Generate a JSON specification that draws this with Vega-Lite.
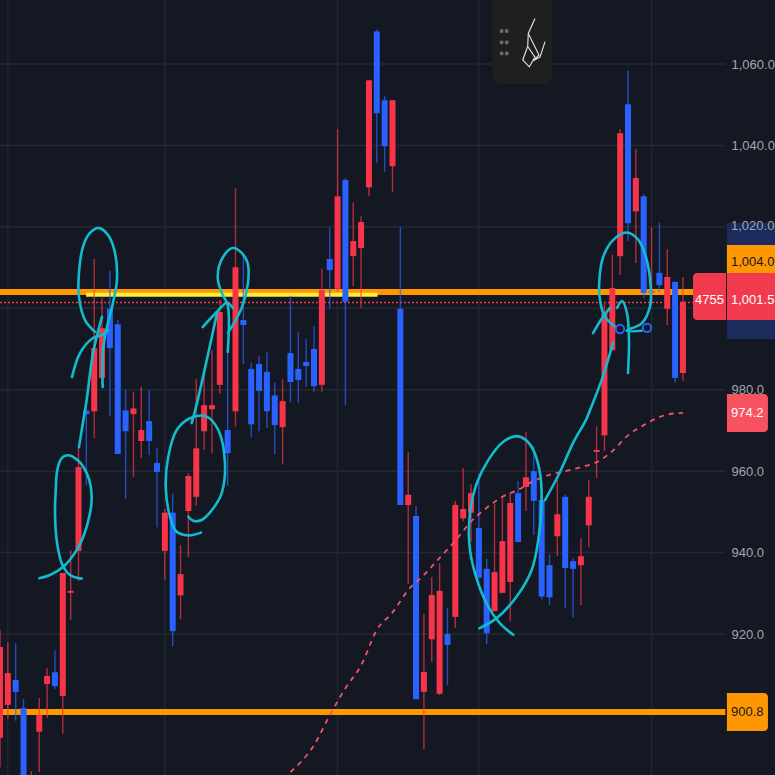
{
  "$schema": "https://vega.github.io/schema/vega-lite/v6.json",
  "description": "Candlestick chart with hand-drawn circles and price levels",
  "width": 775,
  "height": 775,
  "padding": 0,
  "autosize": {"type": "none"},
  "background": "#141823",
  "config": {
    "view": {"stroke": null},
    "axisX": {"disable": true},
    "axisY": {"domain": false, "ticks": false, "grid": false, "title": null, "labelFont": "Liberation Sans", "labelFontSize": 13, "labelColor": "#a3a6af", "labelPadding": 0, "labelAlign": "left", "format": ",.1f", "orient": "right", "offset": -44}
  },
  "datasets": {
    "candles": [
      {"i":0,"dir":"up","high":921.0,"close":916.8,"open":894.5,"low":887.3},
      {"i":1,"dir":"up","high":918.0,"close":910.4,"open":902.6,"low":899.2},
      {"i":2,"dir":"down","high":917.8,"open":908.7,"close":905.8,"low":898.7},
      {"i":3,"dir":"down","high":904.0,"open":901.8,"close":881.7,"low":881.7},
      {"i":4,"dir":"up","high":886.3,"close":882.9,"open":879.2,"low":878.0},
      {"i":5,"dir":"up","high":904.3,"close":900.1,"open":896.0,"low":886.1},
      {"i":6,"dir":"up","high":911.6,"close":909.7,"open":907.7,"low":899.4},
      {"i":7,"dir":"down","high":916.0,"open":910.6,"close":907.2,"low":906.5},
      {"i":8,"dir":"up","high":935.0,"close":935.0,"open":904.8,"low":895.5},
      {"i":9,"dir":"up","high":940.6,"close":930.6,"open":930.1,"low":923.4},
      {"i":10,"dir":"up","high":965.9,"close":961.0,"open":940.4,"low":933.0},
      {"i":11,"dir":"down","high":976.2,"open":974.9,"close":974.0,"low":956.6},
      {"i":12,"dir":"up","high":1012.1,"close":990.2,"open":974.7,"low":968.1},
      {"i":13,"dir":"up","high":1002.6,"close":995.1,"open":982.9,"low":981.2},
      {"i":14,"dir":"down","high":1009.2,"open":999.9,"close":990.2,"low":973.5},
      {"i":15,"dir":"down","high":997.1,"open":996.1,"close":964.2,"low":964.2},
      {"i":16,"dir":"down","high":980.0,"open":974.9,"close":969.8,"low":953.2},
      {"i":17,"dir":"up","high":979.5,"close":975.4,"open":974.0,"low":958.6},
      {"i":18,"dir":"up","high":980.7,"close":970.1,"open":967.4,"low":963.2},
      {"i":19,"dir":"down","high":980.0,"open":972.3,"close":967.4,"low":963.9},
      {"i":20,"dir":"down","high":965.6,"open":962.0,"close":959.8,"low":946.2},
      {"i":21,"dir":"up","high":950.7,"close":949.8,"open":940.4,"low":933.3},
      {"i":22,"dir":"down","high":954.6,"open":949.8,"close":920.7,"low":917.0},
      {"i":23,"dir":"up","high":941.8,"close":934.7,"open":929.5,"low":923.6},
      {"i":24,"dir":"up","high":959.5,"close":958.8,"open":950.2,"low":938.9},
      {"i":25,"dir":"up","high":982.6,"close":965.6,"open":953.7,"low":951.5},
      {"i":26,"dir":"up","high":985.3,"close":976.2,"open":969.8,"low":965.2},
      {"i":27,"dir":"up","high":989.7,"close":976.2,"open":975.2,"low":964.4},
      {"i":28,"dir":"up","high":1002.1,"close":999.1,"open":981.2,"low":979.0},
      {"i":29,"dir":"down","high":989.0,"open":970.1,"close":964.4,"low":956.4},
      {"i":30,"dir":"up","high":1029.5,"close":1010.1,"open":974.7,"low":971.0},
      {"i":31,"dir":"down","high":1013.1,"open":997.1,"close":995.9,"low":986.3},
      {"i":32,"dir":"down","high":986.6,"open":985.1,"close":971.5,"low":968.3},
      {"i":33,"dir":"down","high":988.3,"open":986.3,"close":979.7,"low":969.8},
      {"i":34,"dir":"down","high":989.2,"open":984.4,"close":974.7,"low":970.6},
      {"i":35,"dir":"down","high":981.7,"open":978.6,"close":971.3,"low":964.2},
      {"i":36,"dir":"up","high":982.6,"close":977.2,"open":970.8,"low":961.7},
      {"i":37,"dir":"down","high":1003.1,"open":989.0,"close":981.9,"low":976.9},
      {"i":38,"dir":"down","high":994.1,"open":985.1,"close":982.4,"low":976.7},
      {"i":39,"dir":"down","high":992.4,"open":986.8,"close":985.8,"low":980.7},
      {"i":40,"dir":"down","high":995.6,"open":990.0,"close":980.9,"low":979.5},
      {"i":41,"dir":"up","high":1009.7,"close":1004.5,"open":981.2,"low":979.5},
      {"i":42,"dir":"down","high":1019.9,"open":1012.1,"close":1009.4,"low":999.9},
      {"i":43,"dir":"up","high":1044.0,"close":1027.5,"open":1004.8,"low":1004.0},
      {"i":44,"dir":"down","high":1032.0,"open":1031.5,"close":1001.6,"low":976.2},
      {"i":45,"dir":"up","high":1026.0,"close":1016.5,"open":1012.8,"low":1005.5},
      {"i":46,"dir":"up","high":1022.6,"close":1021.2,"open":1014.8,"low":1000.1},
      {"i":47,"dir":"up","high":1056.0,"close":1056.0,"open":1029.7,"low":1027.5},
      {"i":48,"dir":"down","high":1068.5,"open":1068.0,"close":1047.9,"low":1035.7},
      {"i":49,"dir":"down","high":1052.1,"open":1051.1,"close":1039.8,"low":1033.5},
      {"i":50,"dir":"up","high":1051.1,"close":1051.1,"open":1034.9,"low":1028.5},
      {"i":51,"dir":"down","high":1019.9,"open":999.9,"close":951.7,"low":951.7},
      {"i":52,"dir":"up","high":964.7,"close":954.2,"open":951.7,"low":932.3},
      {"i":53,"dir":"down","high":951.5,"open":949.0,"close":904.0,"low":904.0},
      {"i":54,"dir":"up","high":924.9,"close":910.7,"open":905.8,"low":891.7},
      {"i":55,"dir":"up","high":934.0,"close":929.6,"open":918.7,"low":913.1},
      {"i":56,"dir":"up","high":937.4,"close":930.6,"open":905.3,"low":905.0},
      {"i":57,"dir":"down","high":926.4,"open":920.0,"close":917.3,"low":907.5},
      {"i":58,"dir":"up","high":952.7,"close":951.7,"open":924.2,"low":921.5},
      {"i":59,"dir":"up","high":960.8,"close":950.7,"open":948.4,"low":947.7},
      {"i":60,"dir":"up","high":956.8,"close":954.6,"open":949.8,"low":942.6},
      {"i":61,"dir":"down","high":959.5,"open":946.0,"close":933.8,"low":933.8},
      {"i":62,"dir":"down","high":938.4,"open":936.0,"close":920.2,"low":917.5},
      {"i":63,"dir":"up","high":952.0,"close":935.2,"open":925.6,"low":925.6},
      {"i":64,"dir":"up","high":953.7,"close":942.8,"open":930.1,"low":930.1},
      {"i":65,"dir":"up","high":954.6,"close":952.2,"open":932.8,"low":923.1},
      {"i":66,"dir":"down","high":957.6,"open":954.6,"close":942.6,"low":942.6},
      {"i":67,"dir":"up","high":969.6,"close":958.5,"open":956.1,"low":950.2},
      {"i":68,"dir":"down","high":966.1,"open":960.0,"close":952.7,"low":944.3},
      {"i":69,"dir":"down","high":952.9,"open":952.9,"close":929.2,"low":928.5},
      {"i":70,"dir":"down","high":939.6,"open":936.9,"close":929.0,"low":927.1},
      {"i":71,"dir":"up","high":957.8,"close":949.4,"open":944.0,"low":939.1},
      {"i":72,"dir":"down","high":954.2,"open":953.7,"close":936.2,"low":926.3},
      {"i":73,"dir":"down","high":938.6,"open":937.9,"close":936.0,"low":924.1},
      {"i":74,"dir":"up","high":943.5,"close":939.1,"open":936.9,"low":927.1},
      {"i":75,"dir":"up","high":957.8,"close":953.7,"open":946.7,"low":941.3},
      {"i":76,"dir":"up","high":971.0,"close":965.2,"open":964.7,"low":958.3},
      {"i":77,"dir":"up","high":1001.1,"close":998.8,"open":968.8,"low":964.9},
      {"i":78,"dir":"up","high":1013.1,"close":1005.0,"open":989.7,"low":989.7},
      {"i":79,"dir":"up","high":1044.0,"close":1043.0,"open":1012.8,"low":1008.2},
      {"i":80,"dir":"down","high":1058.4,"open":1050.1,"close":1020.9,"low":1016.5},
      {"i":81,"dir":"up","high":1039.1,"close":1032.0,"open":1023.8,"low":1011.1},
      {"i":82,"dir":"down","high":1028.0,"open":1027.5,"close":1003.8,"low":1002.6},
      {"i":83,"dir":"up","high":1019.9,"close":1004.3,"open":1003.8,"low":1001.3},
      {"i":84,"dir":"down","high":1021.1,"open":1008.7,"close":1005.7,"low":1004.0},
      {"i":85,"dir":"up","high":1014.5,"close":1007.7,"open":999.9,"low":995.9},
      {"i":86,"dir":"down","high":1006.5,"open":1006.5,"close":982.9,"low":981.7},
      {"i":87,"dir":"up","high":1007.7,"close":1001.6,"open":984.1,"low":982.2}
    ],
    "ma": [
      {"i":37,"p":886.1},{"i":40,"p":892.7},{"i":42,"p":900.0},{"i":44,"p":906.7},{"i":46,"p":912.3},
      {"i":48,"p":921.0},{"i":50,"p":925.3},{"i":52,"p":930.8},{"i":54,"p":934.5},{"i":56,"p":938.7},
      {"i":58,"p":942.9},{"i":60,"p":947.6},{"i":62,"p":951.0},{"i":64,"p":953.7},{"i":66,"p":955.4},
      {"i":68,"p":957.6},{"i":70,"p":959.1},{"i":72,"p":960.0},{"i":74,"p":961.0},{"i":76,"p":962.2},
      {"i":78,"p":964.9},{"i":80,"p":968.8},{"i":82,"p":971.3},{"i":84,"p":973.3},{"i":86,"p":974.2},{"i":87,"p":974.3}
    ],
    "drawing": [
      {"s":"a","n":0,"i":5.01,"p":933.7},{"s":"a","n":1,"i":6.37,"p":934.5},{"s":"a","n":2,"i":8.07,"p":936.5},{"s":"a","n":3,"i":9.77,"p":940.6},{"s":"a","n":4,"i":10.61,"p":943.9},{"s":"a","n":5,"i":11.46,"p":949.6},{"s":"a","n":6,"i":11.68,"p":953.7},{"s":"a","n":7,"i":11.38,"p":957.8},{"s":"a","n":8,"i":10.61,"p":961.1},{"s":"a","n":9,"i":9.77,"p":962.9},{"s":"a","n":10,"i":8.7,"p":963.9},{"s":"a","n":11,"i":7.86,"p":963.2},{"s":"a","n":12,"i":7.3,"p":960.3},{"s":"a","n":13,"i":7.1,"p":955.4},{"s":"a","n":14,"i":7.01,"p":949.6},{"s":"a","n":15,"i":7.22,"p":943.1},{"s":"a","n":16,"i":7.86,"p":937.4},{"s":"a","n":17,"i":8.92,"p":934.5},{"s":"a","n":18,"i":10.41,"p":933.6},
      {"s":"b","n":0,"i":10.06,"p":965.9},{"s":"b","n":1,"i":10.41,"p":970.1},{"s":"b","n":2,"i":11.04,"p":977.5},{"s":"b","n":3,"i":11.85,"p":989.0},{"s":"b","n":4,"i":12.99,"p":997.9},
      {"s":"c","n":0,"i":9.17,"p":983.1},{"s":"c","n":1,"i":10.19,"p":989.0},{"s":"c","n":2,"i":11.85,"p":992.7},{"s":"c","n":3,"i":12.99,"p":993.4},{"s":"c","n":4,"i":13.76,"p":994.7},
      {"s":"d","n":0,"i":12.1,"p":994.2},{"s":"d","n":1,"i":10.83,"p":997.1},{"s":"d","n":2,"i":10.06,"p":1002.8},{"s":"d","n":3,"i":10.06,"p":1008.7},{"s":"d","n":4,"i":10.57,"p":1015.1},{"s":"d","n":5,"i":11.46,"p":1018.5},{"s":"d","n":6,"i":12.61,"p":1019.7},{"s":"d","n":7,"i":13.76,"p":1018.0},{"s":"d","n":8,"i":14.65,"p":1013.6},{"s":"d","n":9,"i":14.9,"p":1007.0},{"s":"d","n":10,"i":14.39,"p":1001.3},{"s":"d","n":11,"i":13.63,"p":995.4},{"s":"d","n":12,"i":13.12,"p":989.8},{"s":"d","n":13,"i":13.08,"p":980.7},
      {"s":"e","n":0,"i":25.6,"p":944.9},{"s":"e","n":1,"i":23.99,"p":944.2},{"s":"e","n":2,"i":22.51,"p":945.1},{"s":"e","n":3,"i":21.66,"p":948.8},{"s":"e","n":4,"i":21.11,"p":956.2},{"s":"e","n":5,"i":21.44,"p":963.6},{"s":"e","n":6,"i":22.51,"p":970.1},{"s":"e","n":7,"i":24.2,"p":973.0},{"s":"e","n":8,"i":26.33,"p":973.4},{"s":"e","n":9,"i":27.81,"p":970.1},{"s":"e","n":10,"i":28.66,"p":961.9},{"s":"e","n":11,"i":28.24,"p":954.6},{"s":"e","n":12,"i":27.17,"p":950.9},{"s":"e","n":13,"i":25.69,"p":948.0},{"s":"e","n":14,"i":24.62,"p":947.8},{"s":"e","n":15,"i":23.99,"p":948.8},
      {"s":"f","n":0,"i":24.42,"p":971.8},{"s":"f","n":1,"i":24.97,"p":975.8},{"s":"f","n":2,"i":25.86,"p":983.1},{"s":"f","n":3,"i":27.64,"p":998.8},
      {"s":"g","n":0,"i":25.82,"p":995.4},{"s":"g","n":1,"i":27.61,"p":999.1},{"s":"g","n":2,"i":28.88,"p":1001.3},{"s":"g","n":3,"i":29.68,"p":1000.1},
      {"s":"h","n":0,"i":29.04,"p":993.9},{"s":"h","n":1,"i":30.79,"p":1000.1},{"s":"h","n":2,"i":31.59,"p":1006.2},{"s":"h","n":3,"i":31.55,"p":1011.1},{"s":"h","n":4,"i":30.79,"p":1013.6},{"s":"h","n":5,"i":29.68,"p":1014.8},{"s":"h","n":6,"i":28.41,"p":1012.6},{"s":"h","n":7,"i":27.73,"p":1007.7},{"s":"h","n":8,"i":28.24,"p":1003.8},{"s":"h","n":9,"i":29.01,"p":1000.8},{"s":"h","n":10,"i":29.01,"p":989.3},
      {"s":"j","n":0,"i":61.06,"p":921.4},{"s":"j","n":1,"i":63.27,"p":923.9},{"s":"j","n":2,"i":65.82,"p":929.2},{"s":"j","n":3,"i":67.73,"p":935.7},{"s":"j","n":4,"i":68.57,"p":943.1},{"s":"j","n":5,"i":69.0,"p":952.9},{"s":"j","n":6,"i":68.79,"p":959.5},{"s":"j","n":7,"i":67.94,"p":965.2},{"s":"j","n":8,"i":66.88,"p":967.8},{"s":"j","n":9,"i":65.82,"p":968.6},{"s":"j","n":10,"i":64.11,"p":967.2},{"s":"j","n":11,"i":62.2,"p":962.7},{"s":"j","n":12,"i":60.73,"p":957.0},{"s":"j","n":13,"i":59.87,"p":949.7},{"s":"j","n":14,"i":59.78,"p":942.3},{"s":"j","n":15,"i":60.51,"p":934.9},{"s":"j","n":16,"i":62.2,"p":926.7},{"s":"j","n":17,"i":63.69,"p":922.6},{"s":"j","n":18,"i":65.39,"p":919.8},
      {"s":"k","n":0,"i":69.43,"p":952.9},{"s":"k","n":1,"i":71.34,"p":959.8},{"s":"k","n":2,"i":72.99,"p":966.9},{"s":"k","n":3,"i":74.65,"p":972.6},{"s":"k","n":4,"i":75.16,"p":975.0},{"s":"k","n":5,"i":76.65,"p":982.4},{"s":"k","n":6,"i":78.09,"p":991.5},
      {"s":"l","n":0,"i":75.54,"p":993.9},{"s":"l","n":1,"i":76.82,"p":997.9},{"s":"l","n":2,"i":77.71,"p":1000.1},
      {"s":"m","n":0,"i":78.34,"p":995.5},{"s":"m","n":1,"i":77.07,"p":997.9},{"s":"m","n":2,"i":76.43,"p":1002.0},{"s":"m","n":3,"i":76.35,"p":1007.0},{"s":"m","n":4,"i":76.85,"p":1012.7},{"s":"m","n":5,"i":78.13,"p":1016.8},{"s":"m","n":6,"i":79.83,"p":1018.6},{"s":"m","n":7,"i":81.31,"p":1016.8},{"s":"m","n":8,"i":82.38,"p":1011.9},{"s":"m","n":9,"i":82.89,"p":1005.3},{"s":"m","n":10,"i":82.8,"p":1000.4},{"s":"m","n":11,"i":81.75,"p":996.3},{"s":"m","n":12,"i":79.83,"p":994.5},{"s":"m","n":13,"i":81.75,"p":994.5},
      {"s":"q","n":0,"i":78.6,"p":1000.1},{"s":"q","n":1,"i":79.24,"p":1001.8},{"s":"q","n":2,"i":79.87,"p":998.8},{"s":"q","n":3,"i":80.13,"p":991.5},{"s":"q","n":4,"i":80.0,"p":984.1}
    ],
    "icon": [
      {"s":"a","n":0,"i":68.15,"p":1071.2},{"s":"a","n":1,"i":67.3,"p":1067.5},{"s":"a","n":2,"i":67.22,"p":1064.3},{"s":"a","n":3,"i":66.59,"p":1061.0},{"s":"a","n":4,"i":67.43,"p":1059.3},{"s":"a","n":5,"i":68.15,"p":1061.7},{"s":"a","n":6,"i":67.22,"p":1064.3},
      {"s":"b","n":0,"i":67.3,"p":1067.5},{"s":"b","n":1,"i":68.66,"p":1062.2},{"s":"b","n":2,"i":67.94,"p":1060.8},{"s":"b","n":3,"i":68.79,"p":1061.7},{"s":"b","n":4,"i":69.43,"p":1065.5}
    ],
    "iconDots": [
      {"i":63.9,"p":1068.1},{"i":64.55,"p":1068.1},{"i":63.9,"p":1065.3},{"i":64.55,"p":1065.3},{"i":63.9,"p":1062.6},{"i":64.55,"p":1062.6}
    ],
    "anchors": [{"i":78.98,"p":994.9},{"i":82.42,"p":995.2}],
    "gridY": [{"p":920},{"p":940},{"p":960},{"p":980},{"p":1000},{"p":1020},{"p":1040},{"p":1060}],
    "gridX": [{"i":1},{"i":21},{"i":43},{"i":61},{"i":83}]
  },
  "data": {"name": "candles"},
  "layer": [
    {
      "data": {"name": "gridY"},
      "mark": {"type": "rule", "color": "#242833", "strokeWidth": 1.5},
      "encoding": {
        "x": {"datum": 0, "type": "quantitative", "scale": {"domain": [0, 98.726], "nice": false, "zero": false, "padding": 0}},
        "x2": {"datum": 92.4},
        "y": {"field": "p", "type": "quantitative", "scale": {"domain": [885.37, 1075.72], "nice": false, "zero": false}, "axis": {"values": [920, 940, 960, 980, 1040, 1060]}}
      }
    },
    {
      "data": {"name": "gridX"},
      "mark": {"type": "rule", "color": "#222631", "strokeWidth": 1.5},
      "encoding": {"x": {"field": "i", "type": "quantitative"}}
    },
    {
      "data": {"values": [{"level": "navy"}]},
      "mark": {"type": "rect", "color": "#1a2b5c"},
      "encoding": {"x": {"datum": 92.6}, "x2": {"datum": 98.726}, "y": {"datum": 1020.95}, "y2": {"datum": 992.46}}
    },
    {
      "data": {"values": [{"level": 1004.0}]},
      "mark": {"type": "rule", "color": "#ff9800", "strokeWidth": 6},
      "encoding": {"x": {"datum": 0}, "x2": {"datum": 88.3}, "y": {"field": "level", "type": "quantitative"}}
    },
    {
      "data": {"values": [{"level": 1003.3}]},
      "mark": {"type": "rule", "color": "#ffeb3b", "strokeWidth": 4},
      "encoding": {"x": {"datum": 10.96}, "x2": {"datum": 48.1}, "y": {"field": "level", "type": "quantitative"}}
    },
    {
      "data": {"values": [{"level": 900.85}]},
      "mark": {"type": "rule", "color": "#ff9800", "strokeWidth": 6},
      "encoding": {"x": {"datum": 0}, "x2": {"datum": 92.4}, "y": {"field": "level", "type": "quantitative"}}
    },
    {
      "data": {"values": [{"level": 1001.4}]},
      "mark": {"type": "rule", "color": "#f23645", "strokeWidth": 1.5, "strokeDash": [2, 2]},
      "encoding": {"x": {"datum": 0}, "x2": {"datum": 88.3}, "y": {"field": "level", "type": "quantitative"}}
    },
    {
      "data": {"values": [{"box": "toolbar"}]},
      "mark": {"type": "rect", "color": "#1e1f21", "cornerRadius": 9},
      "encoding": {"x": {"datum": 62.7}, "x2": {"datum": 70.4}, "y": {"datum": 1077}, "y2": {"datum": 1055.1}}
    },
    {
      "data": {"name": "iconDots"},
      "mark": {"type": "point", "shape": "square", "filled": true, "size": 12, "color": "#6a6b6d", "opacity": 1},
      "encoding": {"x": {"field": "i", "type": "quantitative"}, "y": {"field": "p", "type": "quantitative"}}
    },
    {
      "data": {"name": "icon"},
      "mark": {"type": "line", "color": "#d9dadc", "strokeWidth": 1.2},
      "encoding": {"x": {"field": "i", "type": "quantitative"}, "y": {"field": "p", "type": "quantitative"}, "detail": {"field": "s"}, "order": {"field": "n", "type": "quantitative"}}
    },
    {
      "mark": {"type": "rule", "strokeWidth": 1.4, "opacity": 0.7, "clip": true},
      "encoding": {
        "x": {"field": "i", "type": "quantitative"},
        "y": {"field": "high", "type": "quantitative"},
        "y2": {"field": "low"},
        "color": {"field": "dir", "type": "nominal", "legend": null, "scale": {"domain": ["up", "down"], "range": ["#f7344a", "#2962ff"]}}
      }
    },
    {
      "mark": {"type": "bar", "width": 6, "clip": true},
      "encoding": {
        "x": {"field": "i", "type": "quantitative"},
        "y": {"field": "open", "type": "quantitative"},
        "y2": {"field": "close"},
        "color": {"field": "dir", "type": "nominal", "legend": null}
      }
    },
    {
      "data": {"name": "ma"},
      "mark": {"type": "line", "color": "#f7525f", "strokeWidth": 1.8, "strokeDash": [5, 5], "interpolate": "monotone", "clip": true},
      "encoding": {"x": {"field": "i", "type": "quantitative"}, "y": {"field": "p", "type": "quantitative"}}
    },
    {
      "data": {"name": "drawing"},
      "mark": {"type": "line", "color": "#12bccf", "strokeWidth": 2.6, "interpolate": "catmull-rom", "strokeCap": "round"},
      "encoding": {"x": {"field": "i", "type": "quantitative"}, "y": {"field": "p", "type": "quantitative"}, "detail": {"field": "s"}, "order": {"field": "n", "type": "quantitative"}}
    },
    {
      "data": {"name": "anchors"},
      "mark": {"type": "point", "filled": false, "size": 70, "color": "#2962ff", "strokeWidth": 2, "opacity": 1},
      "encoding": {"x": {"field": "i", "type": "quantitative"}, "y": {"field": "p", "type": "quantitative"}}
    },
    {
      "data": {"values": [{"box": "orange"}]},
      "mark": {"type": "rect", "color": "#ff9800"},
      "encoding": {"x": {"datum": 92.6}, "x2": {"datum": 98.726}, "y": {"datum": 1015.55}, "y2": {"datum": 1008.67}}
    },
    {
      "data": {"values": [{"box": "red"}]},
      "mark": {"type": "rect", "color": "#f23a4e"},
      "encoding": {"x": {"datum": 92.6}, "x2": {"datum": 98.726}, "y": {"datum": 1008.67}, "y2": {"datum": 997.12}}
    },
    {
      "data": {"values": [{"box": "count"}]},
      "mark": {"type": "rect", "color": "#f23a4e", "cornerRadiusTopLeft": 4, "cornerRadiusBottomLeft": 4},
      "encoding": {"x": {"datum": 88.28}, "x2": {"datum": 92.48}, "y": {"datum": 1008.67}, "y2": {"datum": 997.12}}
    },
    {
      "data": {"values": [{"box": "ma"}]},
      "mark": {"type": "rect", "color": "#f7525f", "cornerRadiusTopRight": 4, "cornerRadiusBottomRight": 4},
      "encoding": {"x": {"datum": 92.6}, "x2": {"datum": 97.83}, "y": {"datum": 978.95}, "y2": {"datum": 969.62}}
    },
    {
      "data": {"values": [{"box": "low"}]},
      "mark": {"type": "rect", "color": "#ff9800", "cornerRadiusTopRight": 4, "cornerRadiusBottomRight": 4},
      "encoding": {"x": {"datum": 92.6}, "x2": {"datum": 97.83}, "y": {"datum": 905.51}, "y2": {"datum": 896.18}}
    },
    {
      "data": {"values": [{"label": "1,020.0", "x": 93.12, "p": 1020.2}]},
      "mark": {"type": "text", "align": "left", "baseline": "middle", "font": "Liberation Sans", "fontSize": 13, "color": "#a3a6af"},
      "encoding": {"x": {"field": "x", "type": "quantitative"}, "y": {"field": "p", "type": "quantitative"}, "text": {"field": "label"}}
    },
    {
      "data": {"values": [{"label": "1,004.0", "x": 93.12, "p": 1011.4}, {"label": "900.8", "x": 93.12, "p": 900.85}]},
      "mark": {"type": "text", "align": "left", "baseline": "middle", "font": "Liberation Sans", "fontSize": 13, "color": "#131722"},
      "encoding": {"x": {"field": "x", "type": "quantitative"}, "y": {"field": "p", "type": "quantitative"}, "text": {"field": "label"}}
    },
    {
      "data": {"values": [{"label": "1,001.5", "x": 93.12, "p": 1002.0}, {"label": "974.2", "x": 93.12, "p": 974.3}]},
      "mark": {"type": "text", "align": "left", "baseline": "middle", "font": "Liberation Sans", "fontSize": 13, "color": "#ffffff"},
      "encoding": {"x": {"field": "x", "type": "quantitative"}, "y": {"field": "p", "type": "quantitative"}, "text": {"field": "label"}}
    },
    {
      "data": {"values": [{"label": "4755", "x": 90.38, "p": 1002.0}]},
      "mark": {"type": "text", "align": "center", "baseline": "middle", "font": "Liberation Sans", "fontSize": 13, "color": "#ffffff"},
      "encoding": {"x": {"field": "x", "type": "quantitative"}, "y": {"field": "p", "type": "quantitative"}, "text": {"field": "label"}}
    }
  ]
}
